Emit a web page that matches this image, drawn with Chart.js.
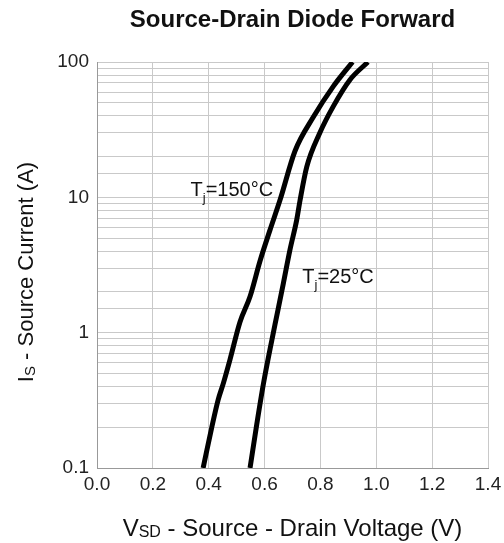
<!DOCTYPE html>
<html>
<head>
<meta charset="utf-8">
<script src="https://cdn.jsdelivr.net/npm/chart.js@4.4.0/dist/chart.umd.min.js"></script>
<style>
  body { margin: 0; background: #fff; }
  #wrap { width: 504px; height: 543px; }
</style>
</head>
<body>
<div id="wrap"><canvas id="diodeChart"></canvas></div>
<script>
// values (V, A)
const v150 = [0.380, 0.411, 0.434, 0.452, 0.476, 0.512, 0.548, 0.584, 0.619, 0.655, 0.709, 0.774, 0.846, 0.915];
const i150 = [0.1, 0.20, 0.32, 0.42, 0.63, 1.2, 1.85, 3.4, 5.7, 9.5, 22, 39, 66, 100];
const v25 = [0.548, 0.572, 0.596, 0.626, 0.643, 0.667, 0.691, 0.715, 0.727, 0.751, 0.798, 0.846, 0.906, 0.970];
const i25 = [0.1, 0.21, 0.42, 0.88, 1.31, 2.3, 4.1, 6.8, 9.5, 16.8, 30, 47, 74, 100];
const decadeTicks = [0.1, 1, 10, 100];
const labels = [
  { main: 'T', sub: 'j', rest: '=150°C', v: 0.335, i: 10.2 },
  { main: 'T', sub: 'j', rest: '=25°C', v: 0.735, i: 2.33 }
];

const FONT = '"Liberation Sans", Arial, sans-serif';

function toPts(xs, ys) {
  return xs.map((x, k) => ({ x: x, y: ys[k] }));
}

// draws text runs one after another, returns total width
function drawRuns(ctx, runs, x, y, measureOnly) {
  let w = 0;
  runs.forEach(r => {
    ctx.font = r.font;
    if (!measureOnly) ctx.fillText(r.text, x + w, y + (r.dy || 0));
    w += ctx.measureText(r.text).width;
  });
  return w;
}

const textPlugin = {
  id: 'texts',
  afterDraw(chart) {
    const ctx = chart.ctx;
    const area = chart.chartArea;
    const sx = chart.scales.x, sy = chart.scales.y;
    ctx.save();
    ctx.fillStyle = '#111';
    ctx.textBaseline = 'alphabetic';
    ctx.textAlign = 'left';

    // title
    ctx.font = 'bold 24px ' + FONT;
    ctx.textAlign = 'center';
    ctx.fillText('Source-Drain Diode Forward', (area.left + area.right) / 2, 27);
    ctx.textAlign = 'left';

    // x axis title
    const xRuns = [
      { text: 'V', font: '24px ' + FONT },
      { text: 'SD', font: '16px ' + FONT, dy: 1 },
      { text: ' - Source - Drain Voltage (V)', font: '24px ' + FONT }
    ];
    let w = drawRuns(ctx, xRuns, 0, 0, true);
    drawRuns(ctx, xRuns, (area.left + area.right) / 2 - w / 2, 536);

    // y axis title
    const yRuns = [
      { text: 'I', font: '22px ' + FONT },
      { text: 'S', font: '15px ' + FONT, dy: 2 },
      { text: ' - Source Current (A)', font: '22px ' + FONT }
    ];
    w = drawRuns(ctx, yRuns, 0, 0, true);
    ctx.save();
    ctx.translate(33, 272);
    ctx.rotate(-Math.PI / 2);
    drawRuns(ctx, yRuns, -w / 2, 0);
    ctx.restore();

    // curve labels
    labels.forEach(l => {
      const runs = [
        { text: l.main, font: '20px ' + FONT },
        { text: l.sub, font: '13px ' + FONT, dy: 6 },
        { text: l.rest, font: '20px ' + FONT }
      ];
      drawRuns(ctx, runs, sx.getPixelForValue(l.v), sy.getPixelForValue(l.i));
    });
    ctx.restore();
  }
};

new Chart(document.getElementById('diodeChart'), {
  type: 'scatter',
  data: {
    datasets: [
      { data: toPts(v150, i150) },
      { data: toPts(v25, i25) }
    ]
  },
  options: {
    responsive: true,
    maintainAspectRatio: false,
    animation: false,
    layout: { padding: { left: 0, top: 62, right: 16, bottom: 0 } },
    elements: {
      point: { radius: 0 },
      line: { borderColor: '#000', borderWidth: 5, cubicInterpolationMode: 'monotone' }
    },
    datasets: { scatter: { showLine: true } },
    plugins: { legend: { display: false }, tooltip: { enabled: false } },
    scales: {
      x: {
        type: 'linear',
        min: 0, max: 1.4,
        afterFit(scale) {
          scale.height = 75;
          scale.paddingRight = 0;
          scale.paddingLeft = 0;
        },
        ticks: {
          stepSize: 0.1,
          color: '#222',
          font: { family: FONT, size: 19 },
          padding: 5,
          maxRotation: 0,
          callback: v => (Math.round(v * 10) % 2 === 0 ? v.toFixed(1) : '')
        },
        grid: { color: '#c9c9c9', lineWidth: 1, drawTicks: false },
        border: { color: '#999', width: 1 }
      },
      y: {
        type: 'logarithmic',
        min: 0.1, max: 100,
        afterFit(scale) { scale.width = 97; },
        ticks: {
          color: '#222',
          font: { family: FONT, size: 19 },
          padding: 8,
          autoSkip: false,
          callback: v => (decadeTicks.some(d => Math.abs(d - v) < 1e-9) ? String(v) : '')
        },
        grid: { color: '#c9c9c9', lineWidth: 1, drawTicks: false },
        border: { color: '#999', width: 1 }
      }
    }
  },
  plugins: [textPlugin]
});
</script>
</body>
</html>
